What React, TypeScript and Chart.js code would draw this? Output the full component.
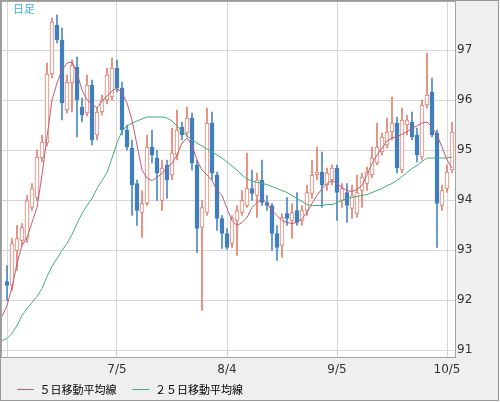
import React, { useEffect, useRef } from "react";
import { Chart, registerables } from "chart.js";

Chart.register(...registerables);

// x positions: slot 0 is the (cut) day before the first candle, candle i sits at slot i + 1
const tickSlots = [1, 23, 45, 67, 89];
const tickLabels = ["6/5", "7/5", "8/4", "9/5", "10/5"];

const seriesNames = ["５日移動平均線", "２５日移動平均線"];

const openPrices = [
  92.37, 92.29, 92.99, 93.19, 93.23, 93.85, 94.05, 94.84, 95.14, 96.52,
  97.5, 97.2, 95.8, 96.34, 96.66, 95.86, 95.74, 96.3, 95.3, 95.76,
  96.0, 96.06, 96.64, 96.24, 95.4, 95.04, 94.33, 93.75, 93.93, 95.06,
  94.84, 93.99, 94.7, 94.5, 94.9, 95.46, 95.34, 95.64, 94.7, 93.45,
  93.75, 95.54, 94.5, 93.63, 93.33, 93.13, 93.59, 93.75, 93.89, 94.23,
  94.09, 94.4, 93.95, 93.89, 93.33, 93.09, 93.73, 93.59, 93.79, 93.59,
  93.79, 94.13, 94.5, 94.56, 94.3, 94.4, 94.64, 93.99, 94.15, 93.83,
  93.73, 94.19, 94.33, 94.5, 94.74, 94.96, 95.1, 95.36, 95.54, 94.6,
  95.5, 95.56, 95.3, 94.86, 95.9, 96.16, 95.34, 93.89, 94.23, 94.6,
];
const highPrices = [
  92.69, 93.23, 93.49, 93.53, 94.09, 94.33, 95.0, 95.3, 96.74, 97.64,
  97.7, 97.44, 96.5, 96.8, 96.86, 96.04, 96.5, 96.4, 95.84, 96.1,
  96.64, 96.84, 96.8, 96.36, 95.5, 95.2, 94.4, 94.19, 95.3, 95.4,
  95.0, 94.8, 94.8, 95.44, 95.8, 95.56, 95.86, 95.74, 94.8, 93.99,
  95.84, 95.76, 94.56, 93.69, 93.43, 93.69, 93.89, 94.19, 94.94, 94.6,
  94.54, 94.8, 94.09, 93.93, 93.49, 93.73, 94.05, 93.93, 94.15, 93.89,
  94.3, 94.8, 95.06, 94.96, 94.64, 94.7, 94.7, 94.33, 94.33, 94.3,
  94.5, 94.54, 94.66, 95.06, 95.54, 95.34, 95.64, 96.06, 95.66, 95.84,
  95.7, 95.76, 95.44, 96.0, 96.94, 96.44, 95.4, 94.3, 94.7, 95.56,
];
const lowPrices = [
  91.99, 92.19, 92.59, 93.09, 93.15, 93.79, 93.99, 94.76, 95.08, 96.44,
  97.14, 95.6, 95.74, 95.76, 95.26, 95.56, 95.68, 95.1, 95.2, 95.7,
  95.92, 96.0, 96.16, 95.3, 95.0, 93.69, 93.49, 93.25, 93.89, 94.74,
  93.99, 93.79, 94.03, 94.4, 94.8, 95.2, 95.26, 94.6, 92.95, 91.79,
  93.69, 94.4, 93.39, 93.03, 93.01, 93.05, 92.89, 93.69, 93.85, 93.99,
  93.65, 93.89, 93.79, 92.99, 92.79, 92.85, 93.49, 93.23, 93.49, 93.49,
  93.69, 94.03, 94.4, 93.85, 94.19, 94.3, 93.59, 93.85, 93.55, 93.63,
  93.65, 93.85, 94.19, 94.44, 94.7, 94.9, 95.04, 95.2, 94.54, 94.54,
  95.3, 95.2, 94.76, 94.8, 95.84, 95.26, 93.05, 93.79, 94.15, 94.54,
];
const closePrices = [
  92.29, 93.13, 93.23, 93.45, 93.99, 94.23, 94.86, 95.16, 96.52, 97.56,
  97.2, 95.94, 96.36, 96.7, 96.0, 95.7, 96.3, 95.2, 95.76, 96.0,
  96.5, 96.64, 96.24, 95.4, 95.06, 94.3, 93.79, 93.93, 95.06, 94.9,
  94.54, 94.64, 94.4, 94.94, 95.4, 95.3, 95.64, 94.74, 93.43, 93.85,
  95.54, 94.54, 93.63, 93.33, 93.05, 93.63, 93.79, 93.99, 94.23, 94.13,
  94.4, 93.95, 93.89, 93.33, 93.05, 93.65, 93.63, 93.75, 93.55, 93.79,
  94.15, 94.5, 94.56, 94.3, 94.54, 94.64, 94.15, 94.23, 93.89, 94.09,
  94.15, 94.46, 94.56, 94.84, 95.06, 95.26, 95.36, 95.54, 94.64, 95.6,
  95.6, 95.26, 94.9, 95.9, 96.1, 95.3, 93.93, 94.19, 94.56, 95.36,
];

const ma5 = [
  91.67, 91.89, 92.25, 92.73, 93.09, 93.25, 93.55, 93.85, 94.5, 95.26,
  96.0, 96.34, 96.6, 96.74, 96.76, 96.54, 96.2, 96.0, 95.92, 95.84,
  95.98, 96.08, 96.18, 96.24, 96.14, 95.94, 95.6, 95.1, 94.6, 94.44,
  94.39, 94.45, 94.53, 94.65, 94.73, 94.9, 95.14, 95.24, 95.1, 94.8,
  94.6, 94.5, 94.39, 94.19, 94.09, 93.83, 93.59, 93.49, 93.55, 93.65,
  93.85, 93.95, 94.03, 93.93, 93.79, 93.69, 93.59, 93.55, 93.53, 93.55,
  93.63, 93.75, 93.93, 94.09, 94.23, 94.33, 94.39, 94.33, 94.25, 94.19,
  94.17, 94.21, 94.29, 94.5, 94.73, 94.9, 95.04, 95.18, 95.24, 95.26,
  95.32, 95.36, 95.44, 95.48, 95.54, 95.56, 95.46, 95.3, 95.06, 94.8,
  94.64,
];
const ma25 = [
  91.19, 91.23, 91.33, 91.49, 91.69, 91.83, 91.95, 92.07, 92.23, 92.47,
  92.67, 92.83, 92.99, 93.13, 93.31, 93.53, 93.73, 93.89, 94.03, 94.23,
  94.39, 94.55, 94.84, 95.14, 95.38, 95.48, 95.54, 95.58, 95.62, 95.66,
  95.66, 95.66, 95.66, 95.64, 95.58, 95.48, 95.38, 95.28, 95.2, 95.14,
  95.08, 95.02, 94.96, 94.9, 94.84, 94.76, 94.68, 94.6, 94.5, 94.42,
  94.38, 94.35, 94.33, 94.31, 94.27, 94.23, 94.19, 94.15, 94.09, 94.03,
  93.97, 93.91, 93.89, 93.89, 93.89, 93.91, 93.91, 93.95, 93.99, 94.03,
  94.05, 94.07, 94.09, 94.11, 94.15, 94.19, 94.23, 94.29, 94.33, 94.39,
  94.47, 94.55, 94.63, 94.69, 94.77, 94.84, 94.84, 94.84, 94.84, 94.84,
  94.86,
];

const UP = "#e2806a";
const UP_FILL = "#ffffff";
const DOWN = "#3f7fc0";
const DOWN_WICK = "#4a88c6";
const MA5_COLOR = "#c45a78";
const MA25_COLOR = "#3fb07a";
const GRID = "#d6d6d6";
const NUM_FONT = "'DejaVu Sans', Verdana, sans-serif";
const JP_FONT = "'Noto Sans CJK JP', sans-serif";

const isUp = (i: number) => closePrices[i] >= openPrices[i];

const plotFrame = {
  id: "plotFrame",
  afterLayout(chart: any) {
    // lift the legend row so it sits just under the date labels
    const lg = chart.legend;
    if (lg) {
      lg.top -= 12;
      lg.bottom -= 12;
    }
  },
  beforeDraw(chart: any) {
    const { ctx, chartArea: a } = chart;
    ctx.save();
    ctx.fillStyle = "#ffffff";
    ctx.fillRect(a.left, a.top, a.right - a.left, a.bottom - a.top);
    ctx.restore();
  },
  afterDraw(chart: any) {
    const { ctx, chartArea: a } = chart;
    ctx.save();
    ctx.strokeStyle = "#a4a4a4";
    ctx.lineWidth = 1;
    ctx.strokeRect(a.left + 0.5, a.top + 0.5, a.right - a.left - 1, a.bottom - a.top - 1);
    ctx.restore();
  },
};

export default function App() {
  const ref = useRef<HTMLCanvasElement>(null);

  useEffect(() => {
    const chart = new Chart(ref.current as HTMLCanvasElement, {
      type: "bar",
      data: {
        datasets: [
          {
            type: "line",
            label: seriesNames[0],
            data: ma5.map((v, j) => ({ x: j, y: v })),
            borderColor: MA5_COLOR,
            backgroundColor: MA5_COLOR,
            borderWidth: 1,
            pointRadius: 0,
            tension: 0,
            order: 0,
          },
          {
            type: "line",
            label: seriesNames[1],
            data: ma25.map((v, j) => ({ x: j, y: v })),
            borderColor: MA25_COLOR,
            backgroundColor: MA25_COLOR,
            borderWidth: 1,
            pointRadius: 0,
            tension: 0,
            order: 1,
          },
          {
            type: "bar",
            label: "body",
            data: openPrices.map((o, i) => ({ x: i + 1, y: [o, closePrices[i]] })),
            backgroundColor: (c: any) => (isUp(c.dataIndex) ? UP_FILL : DOWN),
            borderColor: (c: any) => (isUp(c.dataIndex) ? UP : DOWN),
            borderWidth: 1,
            borderSkipped: false,
            barThickness: 4,
            grouped: false,
            order: 2,
          },
          {
            type: "bar",
            label: "wick",
            data: lowPrices.map((l, i) => ({ x: i + 1, y: [l, highPrices[i]] })),
            backgroundColor: (c: any) => (isUp(c.dataIndex) ? UP : DOWN_WICK),
            borderWidth: 0,
            barThickness: 1,
            grouped: false,
            order: 3,
          },
        ] as any,
      },
      options: {
        responsive: false,
        animation: false,
        events: [],
        layout: { padding: { left: 1, top: 1, right: 0, bottom: 0 } },
        scales: {
          x: {
            type: "linear",
            min: -0.2,
            max: 90.8,
            offset: false,
            grid: { color: GRID, drawTicks: false, offset: false },
            border: { display: false },
            afterBuildTicks: (s: any) => {
              s.ticks = tickSlots.map((v) => ({ value: v }));
            },
            afterFit: (s: any) => {
              s.height = 22;
              s.paddingLeft = 0;
              s.paddingRight = 0;
            },
            ticks: {
              autoSkip: false,
              maxRotation: 0,
              includeBounds: false,
              padding: 5,
              color: "#333333",
              font: { family: NUM_FONT, size: 12 },
              callback: (_v: any, i: number) => (i === 0 ? "" : tickLabels[i]),
            },
          },
          y: {
            type: "linear",
            position: "right",
            min: 90.84,
            max: 97.98,
            grid: { color: GRID, drawTicks: false },
            border: { display: false },
            afterFit: (s: any) => {
              s.width = 44;
              s.paddingTop = 0;
              s.paddingBottom = 0;
            },
            ticks: {
              stepSize: 1,
              includeBounds: false,
              padding: 1,
              color: "#333333",
              font: { family: NUM_FONT, size: 12 },
            },
          },
        },
        plugins: {
          tooltip: { enabled: false },
          legend: {
            position: "bottom",
            align: "start",
            labels: {
              boxWidth: 17,
              boxHeight: 1,
              padding: 16,
              color: "#333333",
              font: { family: JP_FONT, size: 11 },
              generateLabels: (ch: any) =>
                ch.data.datasets.map((ds: any, i: number) => ({
                  text: ds.label,
                  fillStyle: ds.borderColor,
                  strokeStyle: ds.borderColor,
                  lineWidth: 0,
                  hidden: false,
                  datasetIndex: i,
                })),
              filter: (item: any) => item.datasetIndex < 2,
            },
          },
        },
      } as any,
      plugins: [plotFrame],
    });
    return () => chart.destroy();
  }, []);

  return (
    <div
      style={{
        position: "absolute",
        left: 0,
        top: 0,
        width: 500,
        height: 402,
        overflow: "hidden",
        background: "#ffffff",
      }}
    >
      <div
        style={{
          position: "absolute",
          left: 0,
          top: 0,
          width: 499,
          height: 401,
          boxSizing: "border-box",
          border: "1px solid #9a9a9a",
          background: "#efefef",
        }}
      />
      <canvas
        ref={ref}
        width={500}
        height={417}
        style={{ position: "absolute", left: 0, top: 0, width: 500, height: 417 }}
      />
      <span
        style={{
          position: "absolute",
          left: 13,
          top: 3,
          fontFamily: JP_FONT,
          fontSize: 11,
          lineHeight: "11px",
          color: "#3aaee0",
          whiteSpace: "nowrap",
        }}
      >
        日足
      </span>
    </div>
  );
}
